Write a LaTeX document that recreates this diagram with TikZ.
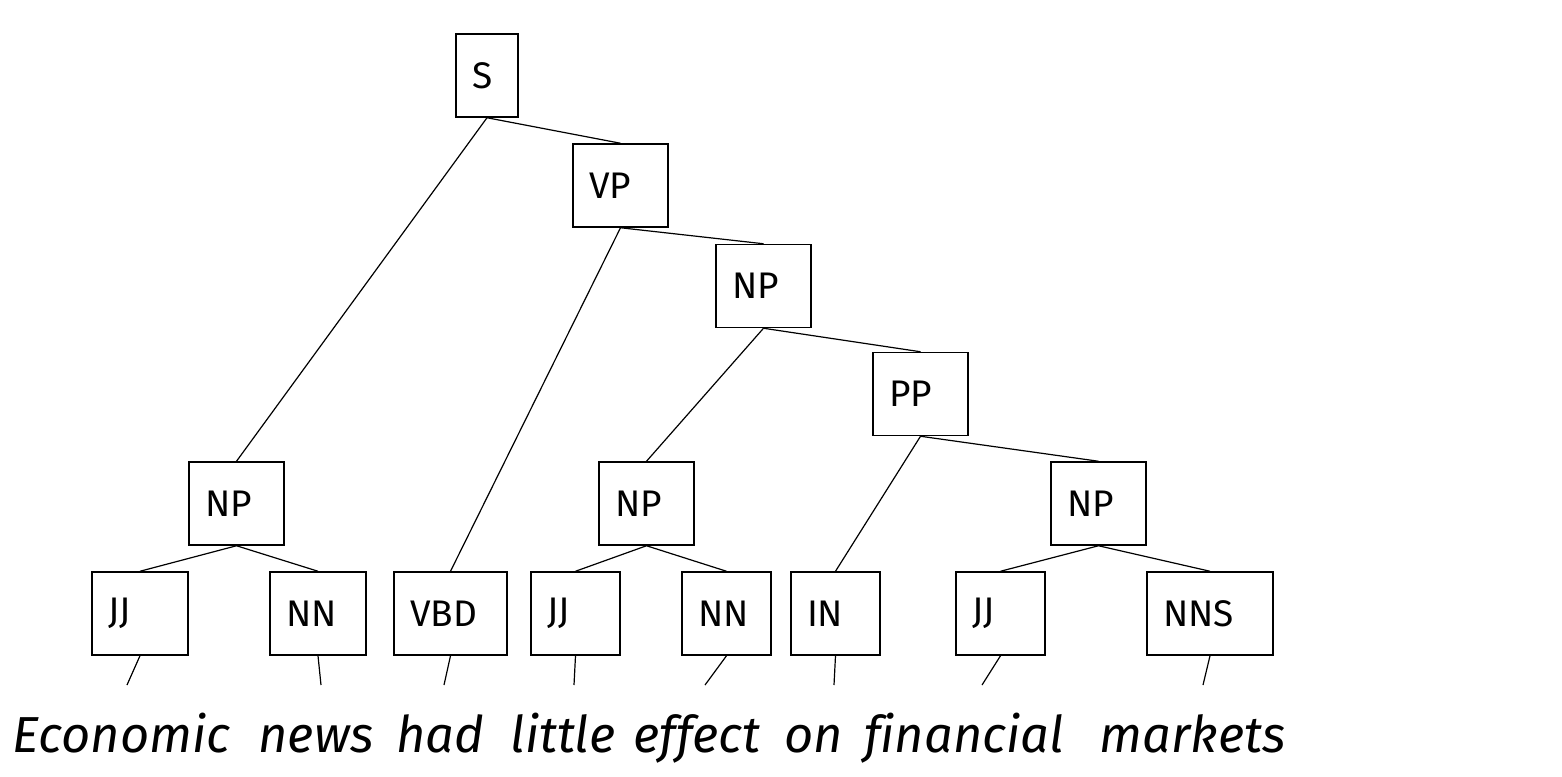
\documentclass[tikz,border=0pt]{standalone}
\usepackage{fontspec}
\setmainfont[Ligatures={NoCommon}]{Fira Sans}
\begin{document}
\begin{tikzpicture}[x=0.5pt,y=-0.5pt,
  cat/.style={draw, line width=0.75pt, minimum height=41.5pt, inner xsep=8pt, inner ysep=0pt, align=left, font=\fontsize{18.5}{21}\selectfont},
  edge/.style={line width=0.6pt},
  word/.style={anchor=base, inner sep=0pt, font=\fontsize{25.3}{30}\selectfont\itshape}]
\useasboundingbox (0,0) rectangle (1562,776);
% phrase nodes
\node[cat, text width=15pt] (S)   at (487,75.5)   {S};
\node[cat, text width=31.5pt] (VP)  at (620.5,185.5) {VP};
\node[cat, text width=31.5pt] (NPa) at (763.5,286)   {NP};
\node[cat, text width=31.5pt] (PP)  at (920.5,394)   {PP};
\node[cat, text width=31.5pt] (NPb) at (236.5,503.5) {NP};
\node[cat, text width=31.5pt] (NPc) at (646.5,503.5) {NP};
\node[cat, text width=31.5pt] (NPd) at (1098.5,503.5) {NP};
% pre-terminals
\node[cat, text width=32pt]   (JJa)  at (140,613.5)   {JJ};
\node[cat, text width=32pt]   (NNa)  at (318,613.5)   {NN};
\node[cat, text width=40.5pt] (VBD)  at (450.5,613.5) {VBD};
\node[cat, text width=28.5pt] (JJb)  at (575.5,613.5) {JJ};
\node[cat, text width=28.5pt] (NNb)  at (726.5,613.5) {NN};
\node[cat, text width=28.5pt] (IN)   at (835.5,613.5) {IN};
\node[cat, text width=28.5pt] (JJc)  at (1000.5,613.5) {JJ};
\node[cat, text width=47pt]   (NNS)  at (1210,613.5)  {NNS};
% words
\node[word] (w1) at (121.5,752) {Economic};
\node[word] (w2) at (316,752) {news};
\node[word] (w3) at (440,752) {had};
\node[word] (w4) at (563,752) {little};
\node[word] (w5) at (697,752) {effect};
\node[word] (w6) at (813.5,752) {on};
\node[word] (w7) at (964,752) {financial};
\node[word] (w8) at (1192.5,752) {markets};
% free ends of leaf links
\coordinate (e1) at (127,685);
\coordinate (e2) at (321,685);
\coordinate (e3) at (444,685);
\coordinate (e4) at (574,685);
\coordinate (e5) at (705,685);
\coordinate (e6) at (834,685);
\coordinate (e7) at (982,685);
\coordinate (e8) at (1203,685);
% tree edges
\draw[edge] (S.south) -- (NPb.north);
\draw[edge] (S.south) -- (VP.north);
\draw[edge] (VP.south) -- (VBD.north);
\draw[edge] (VP.south) -- (NPa.north);
\draw[edge] (NPa.south) -- (NPc.north);
\draw[edge] (NPa.south) -- (PP.north);
\draw[edge] (PP.south) -- (IN.north);
\draw[edge] (PP.south) -- (NPd.north);
\draw[edge] (NPb.south) -- (JJa.north);
\draw[edge] (NPb.south) -- (NNa.north);
\draw[edge] (NPc.south) -- (JJb.north);
\draw[edge] (NPc.south) -- (NNb.north);
\draw[edge] (NPd.south) -- (JJc.north);
\draw[edge] (NPd.south) -- (NNS.north);
\draw[edge] (JJa.south) -- (e1);
\draw[edge] (NNa.south) -- (e2);
\draw[edge] (VBD.south) -- (e3);
\draw[edge] (JJb.south) -- (e4);
\draw[edge] (NNb.south) -- (e5);
\draw[edge] (IN.south) -- (e6);
\draw[edge] (JJc.south) -- (e7);
\draw[edge] (NNS.south) -- (e8);
\end{tikzpicture}
\end{document}
